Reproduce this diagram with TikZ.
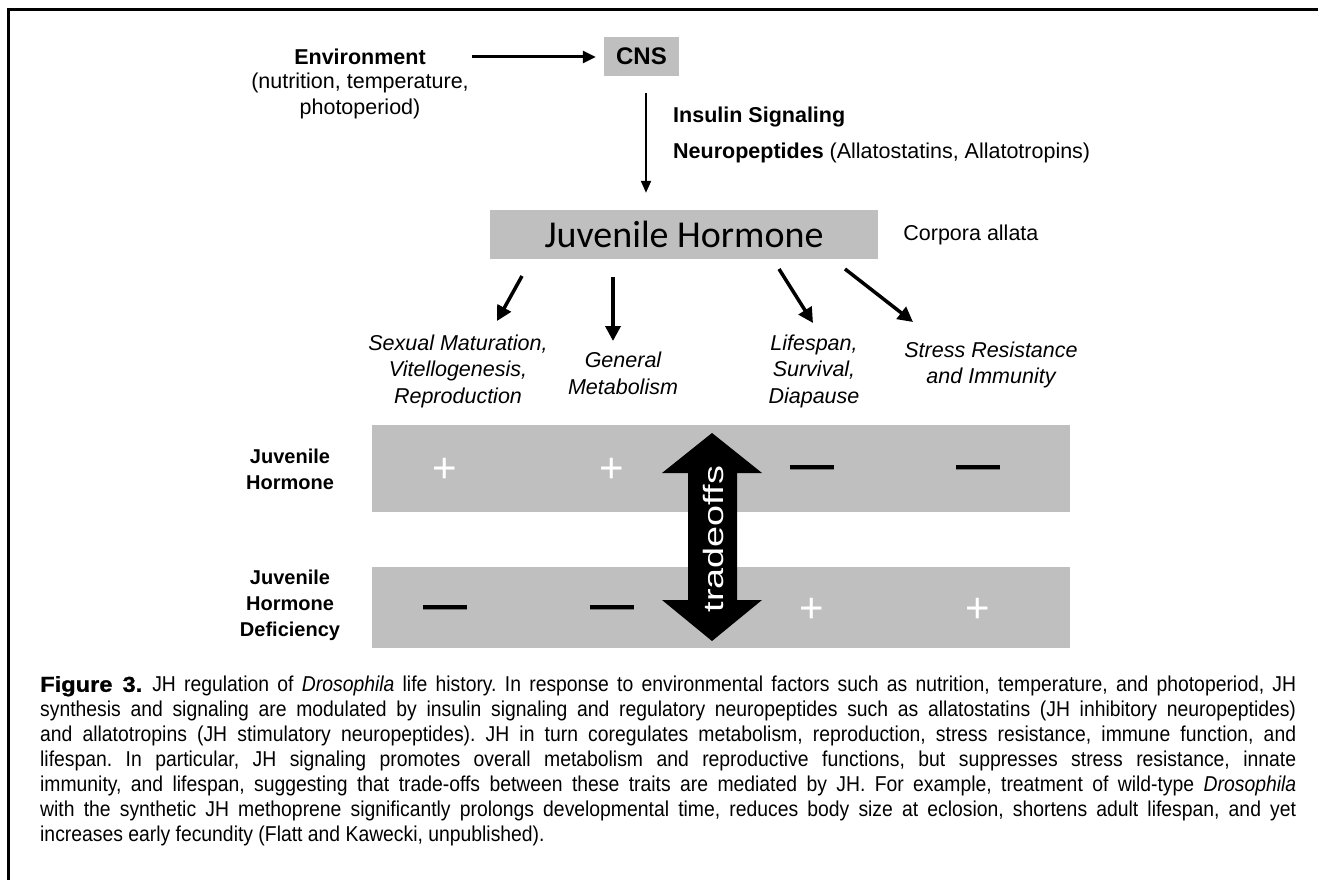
\documentclass[tikz,border=0pt]{standalone}
\usepackage{fontspec}
\setmainfont{Liberation Sans}
\newfontfamily\capfont[FakeStretch=0.9]{Liberation Sans}
\newfontfamily\figfont[FakeStretch=1.1,FakeBold=1]{Liberation Sans Bold}
\newfontfamily\jhfont{Carlito}
\usetikzlibrary{arrows.meta,positioning}
\definecolor{boxgray}{RGB}{191,191,191}
\tikzset{
  lbl/.style={inner sep=0pt, align=center, font=\fontsize{21.5}{26.5}\selectfont},
  outc/.style={inner sep=0pt, align=center, font=\fontsize{21.5}{26.5}\selectfont\itshape},
  rowlbl/.style={inner sep=0pt, align=center, font=\fontsize{20}{26}\selectfont\bfseries},
  graybox/.style={fill=boxgray, inner sep=0pt},
  envarr/.style={line width=3pt, -{Triangle[length=13pt,width=12pt]}},
  thinarr/.style={line width=2pt, -{Triangle[length=12pt,width=10pt]}},
  fatarr/.style={line width=3.5pt, -{Triangle[length=15pt,width=15pt]}},
  plus/.style={text=white, inner sep=0pt, anchor=base, font=\fontsize{42}{42}\selectfont},
  minus/.style={inner sep=0pt, anchor=base, font=\fontsize{44}{44}\selectfont\bfseries},
}
\begin{document}
\begin{tikzpicture}[x=1pt,y=-1pt]
\useasboundingbox (0,0) rectangle (1318,880);
\draw[line width=3pt] (1318,9.5) -- (8,9.5) -- (8,880); % frame

\node[lbl, font=\fontsize{21.5}{26.5}\selectfont\bfseries] (env) at (360,57) {Environment};
\node[lbl] (envsub) at (360,96) {(nutrition, temperature,\\photoperiod)};
\node[graybox, minimum width=75pt, minimum height=39pt, font=\fontsize{24}{24}\selectfont\bfseries] (cns) at (641.5,56.5) {CNS};
\draw[envarr, shorten <=46pt, shorten >=8pt] (env.east) -- (env.east -| cns.west); % env to cns

\node[lbl, anchor=west, font=\fontsize{21.5}{26.5}\selectfont\bfseries] (ins) at (673,117) {Insulin Signaling};
\node[lbl, anchor=west] (neuro) at (673,153) {\textbf{Neuropeptides} (Allatostatins, Allatotropins)};

\node[graybox, minimum width=388pt, minimum height=49pt, font=\fontsize{38}{38}\jhfont] (jh) at (684,234.5) {Juvenile Hormone};
\node[lbl, right=25pt of jh] (ca) {Corpora allata};
\draw[thinarr, shorten <=17pt, shorten >=17pt] ([xshift=4.5pt]cns.south) -- ([xshift=4.5pt]cns.south |- jh.north); % cns to jh

\node[outc] (sex) at (458,371) {Sexual Maturation,\\Vitellogenesis,\\Reproduction};
\node[outc] (gen) at (623,373.5) {General\\Metabolism};
\node[outc] (life) at (814,371) {Lifespan,\\Survival,\\Diapause};
\node[outc] (stress) at (991,365) {Stress Resistance\\and Immunity};

\coordinate (s1) at (522,276); \coordinate (t1) at (497,321);
\coordinate (s2) at (613,277); \coordinate (t2) at (613,341);
\coordinate (s3) at (779,269); \coordinate (t3) at (813,323);
\coordinate (s4) at (845,269); \coordinate (t4) at (913,322);
\draw[fatarr] (s1) -- (t1); % to sex
\draw[fatarr] (s2) -- (t2); % to gen
\draw[fatarr] (s3) -- (t3); % to life
\draw[fatarr] (s4) -- (t4); % to stress

\node[graybox, minimum width=698pt, minimum height=87pt] (jhrow) at (721,468.5) {};
\node[graybox, minimum width=698pt, minimum height=81pt] (defrow) at (721,607.5) {};
\node[rowlbl] (jhlbl) at (290,469.5) {Juvenile\\Hormone};
\node[rowlbl] (deflbl) at (290,605.5) {Juvenile\\Hormone\\Deficiency};

\node[plus] (p1) at (445,482) {+};
\node[plus] (p2) at (612,482) {+};
\node[minus] (m1) at (812,479) {—};
\node[minus] (m2) at (978,479) {—};
\node[minus] (m3) at (445,619) {—};
\node[minus] (m4) at (612,619) {—};
\node[plus] (p3) at (812,622) {+};
\node[plus] (p4) at (978,622) {+};

\fill (712,433) -- (762,473) -- (737,473) -- (737,600) -- (762,600) -- (712,641) -- (662,600) -- (688,600) -- (688,473) -- (662,473) -- cycle; % tradeoffs arrow
\node[rotate=90, text=white, inner sep=0pt, font=\fontsize{28}{28}\selectfont] (trade) at (713,539) {\scalebox{1.35}[1]{tradeoffs}};

\node[anchor=north west, inner sep=0pt, text width=1256pt, align=justify, font=\fontsize{21.5}{25}\capfont\frenchspacing] (cap) at (40,676) {{\figfont Figure 3.}\hspace{10pt}JH regulation of \textit{Drosophila} life history. In response to environmental factors such as nutrition, temperature, and photoperiod, JH\linebreak
synthesis and signaling are modulated by insulin signaling and regulatory neuropeptides such as allatostatins (JH inhibitory neuropeptides)\linebreak
and allatotropins (JH stimulatory neuropeptides). JH in turn coregulates metabolism, reproduction, stress resistance, immune function, and\linebreak
lifespan. In particular, JH signaling promotes overall metabolism and reproductive functions, but suppresses stress resistance, innate\linebreak
immunity, and lifespan, suggesting that trade-offs between these traits are mediated by JH. For example, treatment of wild-type \textit{Drosophila}\linebreak
with the synthetic JH methoprene significantly prolongs developmental time, reduces body size at eclosion, shortens adult lifespan, and yet\linebreak
increases early fecundity (Flatt and Kawecki, unpublished).};
\end{tikzpicture}
\end{document}
